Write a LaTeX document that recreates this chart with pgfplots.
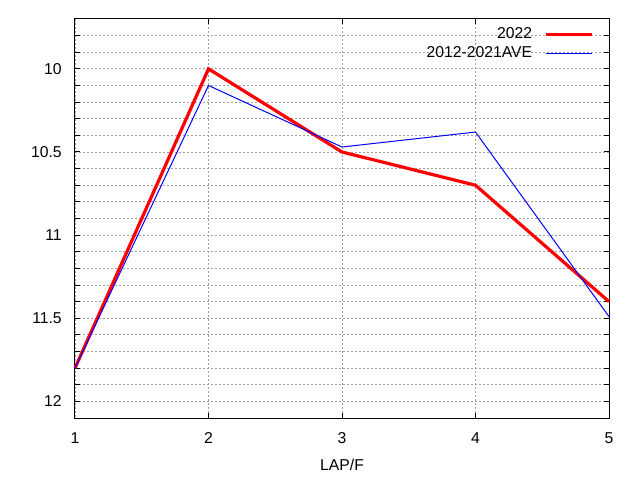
\documentclass[border=0pt]{standalone}
\usepackage{pgfplots}
\pgfplotsset{compat=1.18}
\usepackage{fontspec}
\setmainfont{Liberation Sans}
\begin{document}
\fontsize{11.8pt}{14pt}\selectfont
\begin{tikzpicture}
\begin{axis}[
  name=ax,
  scale only axis,
  width=400.5pt, height=299.25pt,
  xmin=1, xmax=5,
  ymin=9.7, ymax=12.1,
  y dir=reverse,
  xtick={1,2,3,4,5},
  ytick={10,10.5,11,11.5,12},
  minor ytick={9.8,9.9,10.1,10.2,10.3,10.4,10.6,10.7,10.8,10.9,11.1,11.2,11.3,11.4,11.6,11.7,11.8,11.9,12.1},
  yticklabels={10,10.5,11,11.5,12},
  xticklabels={1,2,3,4,5},
  tick align=inside,
  major tick length=3.5pt,
  minor tick length=3.5pt,
  tick style={black, line width=0.75pt},
  axis line style={black, line width=0.75pt},
  grid=both,
  major grid style={gray!75, line width=0.6pt, dash pattern=on 1.5pt off 1.5pt},
  minor grid style={gray!75, line width=0.6pt, dash pattern=on 1.5pt off 1.5pt},
  /pgf/number format/assume math mode=true,
  yticklabel style={inner sep=0pt, xshift=-9.75pt, anchor=east},
  xticklabel style={inner sep=0pt, yshift=-11pt, anchor=north},
  xlabel={LAP/F},
  xlabel style={at={(axis description cs:0.5,0)}, anchor=north, inner sep=0pt, yshift=-30.75pt},
  legend style={draw=none, fill=none, at={(axis description cs:1,1)}, anchor=north east,
    xshift=-8pt, yshift=-2.5pt, row sep=0pt, font=\fontsize{11.8pt}{14pt}\selectfont},
  legend cell align=right,
  legend plot pos=right,
  legend image code/.code={\path (0pt,0pt); \draw[#1] (7pt,0pt) -- (42pt,0pt);},
  clip=false,
]
\addplot[red, line width=2.4pt] coordinates {(1,11.8) (2,10.0) (3,10.5) (4,10.7) (5,11.4)};
\addplot[blue, line width=0.75pt] coordinates {(1,11.8) (2,10.1) (3,10.47) (4,10.38) (5,11.49)};
\legend{2022,2012-2021AVE}
\end{axis}
\path ([shift={(-56.25pt,-46.5pt)}]ax.south west) rectangle ([shift={(23.25pt,14.25pt)}]ax.north east);
\end{tikzpicture}
\end{document}
